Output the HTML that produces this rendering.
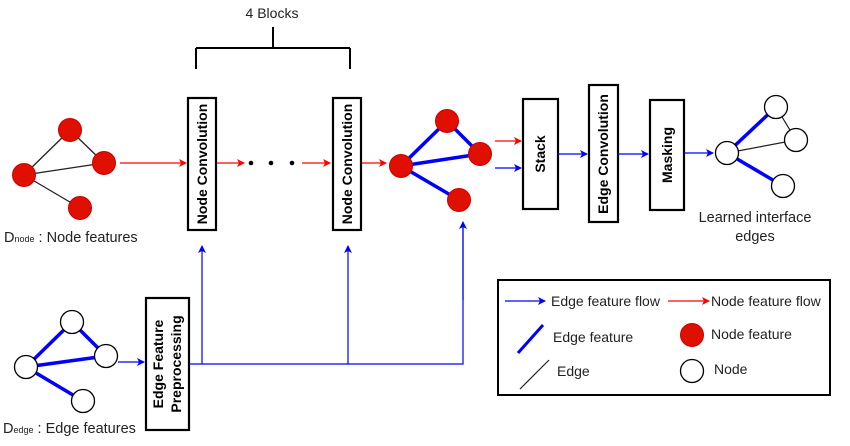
<!DOCTYPE html>
<html><head><style>body{margin:0;background:#fff}svg{display:block;font-family:"Liberation Sans",sans-serif}</style></head><body>
<svg width="850" height="446" viewBox="0 0 850 446" xmlns="http://www.w3.org/2000/svg">
<defs>
<marker id="ar" markerWidth="8" markerHeight="8" refX="7" refY="4" orient="auto" markerUnits="userSpaceOnUse"><path d="M0,0 L8,4 L0,8 L2,4z" fill="#f00"/></marker>
<marker id="ab" markerWidth="8" markerHeight="8" refX="7" refY="4" orient="auto" markerUnits="userSpaceOnUse"><path d="M0,0 L8,4 L0,8 L2,4z" fill="#00f"/></marker>
</defs>
<text x="272" y="18" font-size="14" text-anchor="middle" fill="#222">4 Blocks</text>
<path d="M273,27 V48 M196,48 H350 M196,48 V69 M350,48 V69" stroke="#000" stroke-width="2" fill="none"/>
<g stroke="#222" stroke-width="1.3"><line x1="24" y1="175" x2="70" y2="130"/><line x1="70" y1="130" x2="104" y2="163"/><line x1="24" y1="175" x2="104" y2="163"/><line x1="24" y1="175" x2="80" y2="208"/></g>
<g fill="#e01000" stroke="#c00" stroke-width="1"><circle cx="70" cy="130" r="11.5"/><circle cx="24" cy="175" r="11.5"/><circle cx="104" cy="163" r="11.5"/><circle cx="80" cy="208" r="11.5"/></g>
<text x="4" y="242" font-size="14.5" fill="#222">D<tspan font-size="9">node</tspan> : Node features</text>
<g stroke="#f00" stroke-width="1.2"><line x1="120" y1="163" x2="186" y2="163" marker-end="url(#ar)"/><line x1="216" y1="163" x2="244" y2="163" marker-end="url(#ar)"/><line x1="302" y1="163" x2="330" y2="163" marker-end="url(#ar)"/><line x1="361" y1="163" x2="386" y2="163" marker-end="url(#ar)"/><line x1="495" y1="141" x2="521" y2="141" marker-end="url(#ar)"/></g>
<circle cx="251" cy="163" r="2.3"/><circle cx="271" cy="163" r="2.3"/><circle cx="292" cy="163" r="2.3"/>
<g fill="#fff" stroke="#000" stroke-width="2.2">
<rect x="188" y="98" width="28" height="132"/><rect x="333" y="98" width="28" height="132"/>
<rect x="523" y="99" width="35" height="110"/><rect x="589" y="85" width="29" height="137"/><rect x="650" y="100" width="34" height="110"/>
<rect x="146" y="298" width="43" height="132"/>
</g>
<g font-weight="bold" font-size="14" text-anchor="middle" fill="#000">
<text transform="translate(207,164) rotate(-90)">Node Convolution</text>
<text transform="translate(352,164) rotate(-90)">Node Convolution</text>
<text transform="translate(545,154) rotate(-90)">Stack</text>
<text transform="translate(608,154) rotate(-90)">Edge Convolution</text>
<text transform="translate(672,155) rotate(-90)">Masking</text>
<text transform="translate(163,364) rotate(-90)">Edge Feature</text>
<text transform="translate(181,364) rotate(-90)">Preprocessing</text>
</g>
<g stroke="#00f" stroke-width="3.5"><line x1="401" y1="166" x2="447" y2="121"/><line x1="447" y1="121" x2="480" y2="154"/><line x1="401" y1="166" x2="480" y2="154"/><line x1="401" y1="166" x2="459" y2="200"/></g>
<g fill="#e01000" stroke="#c00" stroke-width="1"><circle cx="447" cy="121" r="11.5"/><circle cx="401" cy="166" r="11.5"/><circle cx="480" cy="154" r="11.5"/><circle cx="459" cy="200" r="11.5"/></g>
<g stroke="#00f" stroke-width="1.2" fill="none">
<line x1="495" y1="168" x2="521" y2="168" marker-end="url(#ab)"/>
<line x1="558" y1="154" x2="587" y2="154" marker-end="url(#ab)"/>
<line x1="618" y1="154" x2="648" y2="154" marker-end="url(#ab)"/>
<line x1="684" y1="153" x2="713" y2="153" marker-end="url(#ab)"/>
<line x1="118" y1="362" x2="144" y2="362" marker-end="url(#ab)"/>
<path d="M189,364 H463 V224"/>
<line x1="202" y1="364" x2="202" y2="246" marker-end="url(#ab)"/>
<line x1="348" y1="364" x2="348" y2="246" marker-end="url(#ab)"/>
<line x1="463" y1="300" x2="463" y2="222" marker-end="url(#ab)"/>
</g>
<g stroke="#00f" stroke-width="3.5"><line x1="727" y1="153" x2="776" y2="107"/><line x1="727" y1="153" x2="783" y2="186"/></g>
<g stroke="#222" stroke-width="1.2"><line x1="776" y1="107" x2="796" y2="140"/><line x1="727" y1="153" x2="796" y2="140"/></g>
<g fill="#fff" stroke="#000" stroke-width="1.3"><circle cx="776" cy="107" r="11.5"/><circle cx="727" cy="153" r="11.5"/><circle cx="796" cy="140" r="11.5"/><circle cx="783" cy="186" r="11.5"/></g>
<text x="755" y="222" font-size="14.5" text-anchor="middle" fill="#222">Learned interface</text>
<text x="755" y="241" font-size="14.5" text-anchor="middle" fill="#222">edges</text>
<g stroke="#00f" stroke-width="3.5"><line x1="26" y1="367" x2="72" y2="322"/><line x1="72" y1="322" x2="106" y2="356"/><line x1="26" y1="367" x2="106" y2="356"/><line x1="26" y1="367" x2="83" y2="401"/></g>
<g fill="#fff" stroke="#000" stroke-width="1.3"><circle cx="72" cy="322" r="11.5"/><circle cx="26" cy="367" r="11.5"/><circle cx="106" cy="356" r="11.5"/><circle cx="83" cy="401" r="11.5"/></g>
<text x="3" y="433" font-size="14.5" fill="#222">D<tspan font-size="9">edge</tspan> : Edge features</text>
<rect x="498" y="280" width="332" height="115" fill="#fff" stroke="#000" stroke-width="2"/>
<line x1="505" y1="301" x2="545" y2="301" stroke="#00f" stroke-width="1.2" marker-end="url(#ab)"/>
<text x="551" y="306" font-size="14" fill="#222">Edge feature flow</text>
<line x1="668" y1="301" x2="709" y2="301" stroke="#f00" stroke-width="1.2" marker-end="url(#ar)"/>
<text x="711" y="306" font-size="14" fill="#222">Node feature flow</text>
<line x1="518" y1="353" x2="543" y2="325" stroke="#00f" stroke-width="3"/>
<text x="553" y="342" font-size="14" fill="#222">Edge feature</text>
<circle cx="692" cy="335" r="11.5" fill="#e01000" stroke="#c00"/>
<text x="711" y="339" font-size="14" fill="#222">Node feature</text>
<line x1="520" y1="389" x2="549" y2="360" stroke="#222" stroke-width="1.2"/>
<text x="557" y="376" font-size="14" fill="#222">Edge</text>
<circle cx="692" cy="371" r="11.5" fill="#fff" stroke="#000" stroke-width="1.3"/>
<text x="714" y="374" font-size="14" fill="#222">Node</text>
</svg>
</body></html>
